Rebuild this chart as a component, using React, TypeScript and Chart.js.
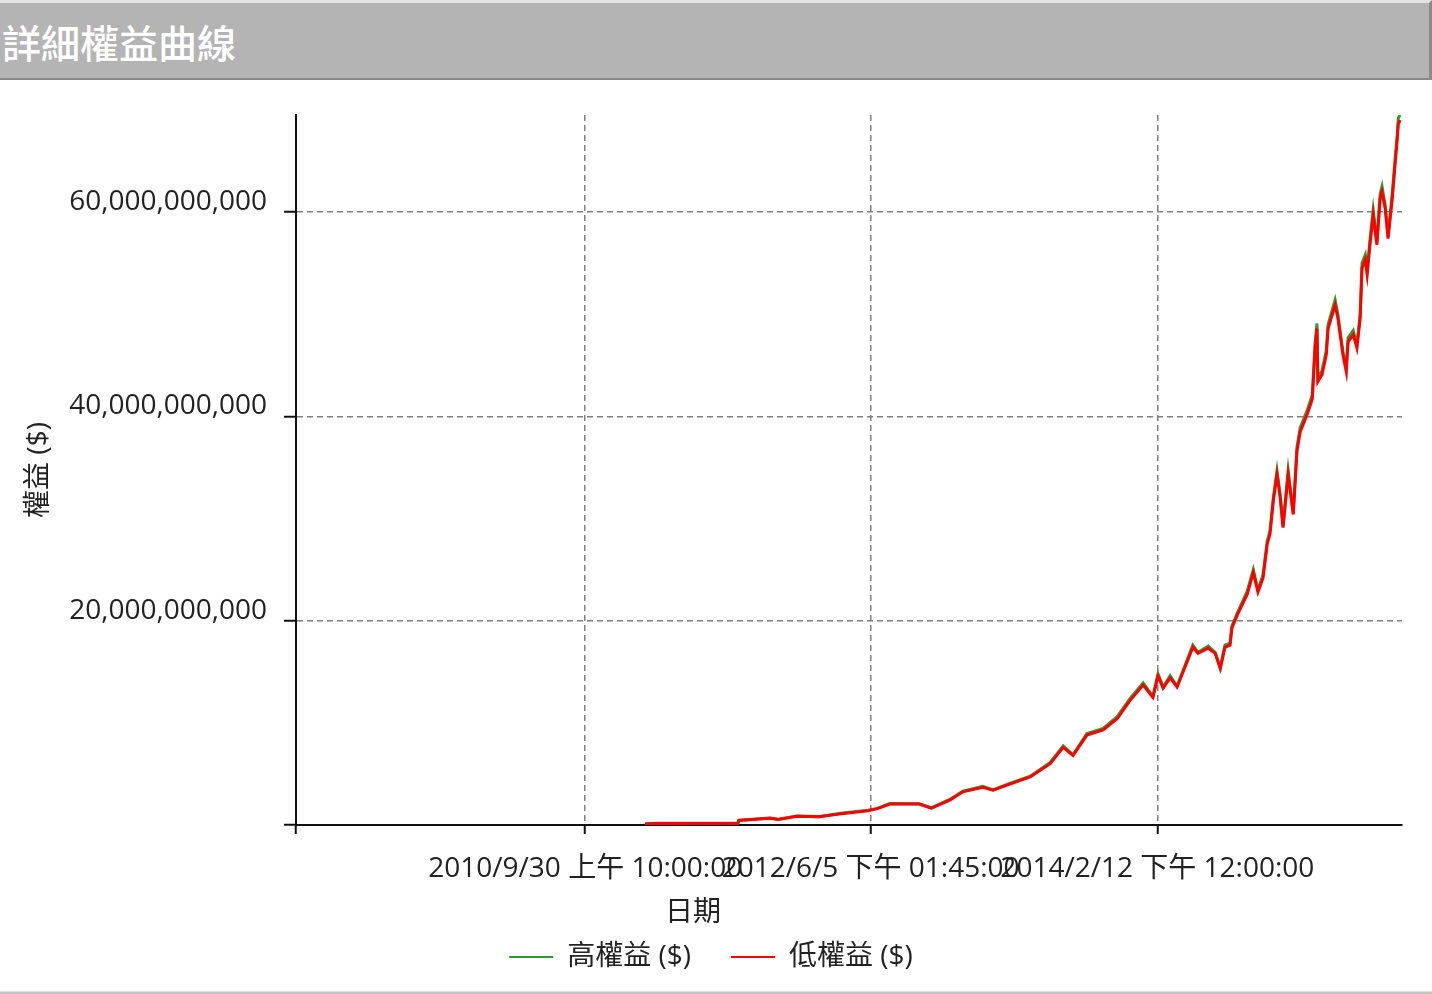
import React, { useEffect, useRef } from "react";
import { Chart, registerables } from "chart.js";

Chart.register(...registerables);

// ---------- data ----------
const TITLE = "詳細權益曲線";
const X_TITLE = "日期";
const Y_TITLE = "權益 ($)";
const SERIES_NAMES = ["高權益 ($)", "低權益 ($)"];

const DATES = [
  "2011-02-06", "2011-03-02", "2011-08-25", "2011-08-27", "2011-11-02", "2011-11-20", "2011-12-30", "2012-02-15", "2012-04-03", "2012-05-31",
  "2012-06-20", "2012-07-17", "2012-09-18", "2012-10-14", "2012-11-23", "2012-12-21", "2013-02-02", "2013-02-24", "2013-03-26", "2013-05-15",
  "2013-06-27", "2013-07-25", "2013-08-15", "2013-09-14", "2013-10-19", "2013-11-18", "2013-12-16", "2014-01-13", "2014-02-03", "2014-02-14",
  "2014-02-25", "2014-03-12", "2014-03-27", "2014-04-30", "2014-05-11", "2014-06-02", "2014-06-17", "2014-06-28", "2014-07-08", "2014-07-19",
  "2014-07-23", "2014-08-05", "2014-08-25", "2014-09-07", "2014-09-17", "2014-09-28", "2014-10-07", "2014-10-13", "2014-10-20", "2014-10-28",
  "2014-11-04", "2014-11-10", "2014-11-21", "2014-12-02", "2014-12-10", "2014-12-17", "2015-01-01", "2015-01-12", "2015-01-18", "2015-01-22",
  "2015-01-24", "2015-02-02", "2015-02-11", "2015-02-15", "2015-03-02", "2015-03-08", "2015-03-19", "2015-03-26", "2015-03-30", "2015-04-10",
  "2015-04-18", "2015-04-25", "2015-04-29", "2015-05-06", "2015-05-10", "2015-05-16", "2015-05-23", "2015-05-31", "2015-06-07", "2015-06-11",
  "2015-06-18", "2015-06-24", "2015-07-03", "2015-07-09", "2015-07-14", "2015-07-16", "2015-07-20",
];

// equity in billions of $
const LOW_B = [
  0.10, 0.15, 0.18, 0.45, 0.65, 0.55, 0.85, 0.80, 1.10, 1.40,
  1.60, 2.05, 2.05, 1.66, 2.44, 3.25, 3.70, 3.40, 3.90, 4.70,
  6.00, 7.60, 6.80, 8.80, 9.30, 10.4, 12.2, 13.7, 12.5, 14.6,
  13.4, 14.4, 13.5, 17.4, 16.8, 17.3, 16.8, 15.3, 17.4, 17.6,
  19.3, 20.7, 22.6, 24.7, 22.8, 24.2, 27.5, 28.5, 31.7, 34.3,
  32.0, 29.1, 34.3, 30.4, 36.6, 38.5, 40.2, 41.7, 46.7, 48.6,
  43.4, 44.1, 46.0, 48.6, 50.9, 49.6, 46.0, 44.4, 47.3, 48.0,
  46.7, 49.6, 54.5, 55.3, 53.9, 56.8, 59.7, 56.8, 61.3, 62.0,
  60.3, 57.4, 61.3, 64.6, 67.2, 68.6, 69.0,
];

const HIGH_B = [
  0.10, 0.16, 0.19, 0.47, 0.68, 0.57, 0.88, 0.82, 1.14, 1.45,
  1.63, 2.10, 2.08, 1.68, 2.50, 3.32, 3.78, 3.44, 3.97, 4.78,
  6.12, 7.75, 6.88, 8.95, 9.45, 10.6, 12.4, 13.9, 12.6, 14.8,
  13.5, 14.6, 13.6, 17.6, 16.9, 17.5, 16.9, 15.4, 17.6, 17.8,
  19.5, 20.9, 22.9, 25.0, 23.0, 24.5, 27.8, 28.8, 32.0, 34.7,
  32.3, 29.3, 34.7, 30.6, 37.0, 38.9, 40.6, 42.1, 47.1, 49.1,
  43.7, 44.5, 46.4, 49.0, 51.4, 50.0, 46.3, 44.7, 47.7, 48.4,
  47.0, 50.0, 55.0, 55.8, 54.2, 57.2, 60.2, 57.1, 61.8, 62.5,
  60.6, 57.7, 61.8, 65.1, 67.7, 69.2, 69.5,
];

const UNIT = 1e9;
const Y_TICKS = [0, 20e9, 40e9, 60e9];
const Y_MAX = 69.5e9;

const X_MIN_DATE = "2009-01-16T00:00:00Z";
const X_MAX_DATE = "2015-07-24T00:00:00Z";
const X_TICK_DATES = ["2010-09-30T10:00:00Z", "2012-06-05T13:45:00Z", "2014-02-12T12:00:00Z"];
const X_TICK_LABELS = ["2010/9/30 上午 10:00:00", "2012/6/5 下午 01:45:00", "2014/2/12 下午 12:00:00"];

// ---------- helpers ----------
const ms = (s: string) => Date.parse(s.length === 10 ? s + "T00:00:00Z" : s);
const FONT = "'Open Sans', 'Noto Sans CJK TC', sans-serif";
const TEXT = "#222222";
const FS = 28;

const X_MIN = ms(X_MIN_DATE);
const X_MAX = ms(X_MAX_DATE);
const X_TICKS = [X_MIN, ...X_TICK_DATES.map(ms)];
const X_LABELS = ["", ...X_TICK_LABELS];

const PLOT_LEFT = 296; // canvas px
const PLOT_BOTTOM = 745; // canvas px
const PAD_BOTTOM = 10;
const PAD_LEFT = 20;

const xTitlePlugin = {
  id: "xTitleOffCenter",
  afterDraw(chart: any) {
    const ctx = chart.ctx;
    ctx.save();
    ctx.font = `${FS}px ${FONT}`;
    ctx.fillStyle = TEXT;
    ctx.textAlign = "center";
    ctx.textBaseline = "middle";
    ctx.fillText(X_TITLE, chart.width * 0.484, chart.chartArea.bottom + 88);
    ctx.restore();
  },
};

export default function App() {
  const ref = useRef<HTMLCanvasElement>(null);

  useEffect(() => {
    const low = DATES.map((d, i) => ({ x: ms(d), y: LOW_B[i] * UNIT }));
    const high = DATES.map((d, i) => ({ x: ms(d), y: HIGH_B[i] * UNIT }));

    const gridCommon = {
      color: "#808080",
      lineWidth: 1.5,
      tickColor: "#111",
      tickWidth: 2,
    };
    const borderCommon = { display: true, color: "#111", width: 2, dash: [6, 4] };

    const chart = new Chart(ref.current as HTMLCanvasElement, {
      type: "line",
      data: {
        datasets: [
          {
            label: SERIES_NAMES[0],
            data: high,
            borderColor: "#2f9a2f",
            backgroundColor: "#2f9a2f",
            borderWidth: 3,
            pointRadius: 0,
            tension: 0,
            order: 1,
          },
          {
            label: SERIES_NAMES[1],
            data: low,
            borderColor: "#ff0000",
            backgroundColor: "#ff0000",
            borderWidth: 3,
            pointRadius: 0,
            tension: 0,
            order: 0,
          },
        ],
      },
      options: {
        animation: false,
        responsive: false,
        layout: { padding: { top: 35, right: 30, left: PAD_LEFT, bottom: PAD_BOTTOM } },
        plugins: {
          tooltip: { enabled: false },
          title: { display: false },
          legend: {
            position: "bottom",
            labels: {
              boxWidth: 44,
              boxHeight: 2,
              padding: 40,
              color: TEXT,
              font: { family: FONT, size: FS },
              generateLabels: (c: any) =>
                c.data.datasets.map((ds: any, i: number) => ({
                  text: ds.label,
                  fillStyle: ds.borderColor,
                  strokeStyle: ds.borderColor,
                  lineWidth: 0,
                  hidden: false,
                  datasetIndex: i,
                  fontColor: TEXT,
                })),
            },
          },
        },
        scales: {
          x: {
            type: "linear",
            min: X_MIN,
            max: X_MAX,
            afterBuildTicks: (s: any) => {
              s.ticks = X_TICKS.map((v) => ({ value: v }));
            },
            afterFit: (s: any) => {
              const lg = s.chart.legend;
              s.height = s.chart.height - PLOT_BOTTOM - PAD_BOTTOM - (lg ? lg.height : 0);
            },
            ticks: {
              autoSkip: false,
              maxRotation: 0,
              minRotation: 0,
              padding: 18,
              color: TEXT,
              font: { family: FONT, size: FS },
              callback: (v: any) => {
                const i = X_TICKS.indexOf(Number(v));
                return i >= 0 ? X_LABELS[i] : "";
              },
            },
            grid: { ...gridCommon, tickLength: 9 },
            border: borderCommon,
          },
          y: {
            type: "linear",
            min: 0,
            max: Y_MAX,
            afterBuildTicks: (s: any) => {
              s.ticks = Y_TICKS.map((v) => ({ value: v }));
            },
            afterFit: (s: any) => {
              s.width = PLOT_LEFT - PAD_LEFT;
            },
            ticks: {
              padding: 17,
              labelOffset: -10,
              color: TEXT,
              font: { family: FONT, size: FS },
              callback: (v: any) => (Number(v) === 0 ? "" : Number(v).toLocaleString("en-US")),
            },
            grid: { ...gridCommon, tickLength: 12 },
            border: borderCommon,
            title: {
              display: true,
              text: Y_TITLE,
              color: TEXT,
              font: { family: FONT, size: FS },
              padding: { top: 2, bottom: 0 },
            },
          },
        },
      } as any,
      plugins: [xTitlePlugin],
    });

    return () => chart.destroy();
  }, []);

  return (
    <div
      style={{
        position: "absolute",
        left: 0,
        top: 0,
        width: 1432,
        height: 994,
        background: "#ffffff",
        overflow: "hidden",
      }}
    >
      <div
        style={{
          position: "absolute",
          left: 0,
          top: 0,
          width: 1432,
          height: 80,
          boxSizing: "border-box",
          background: "#b4b4b4",
          borderTop: "3px solid #e4e4e4",
          borderBottom: "2px solid #8a8a8a",
          borderRight: "3px solid #8a8a8a",
          display: "flex",
          alignItems: "center",
          paddingLeft: 2,
          color: "#ffffff",
          fontFamily: "'Noto Sans CJK TC', sans-serif",
          fontSize: 39,
          fontWeight: 500,
          lineHeight: "40px",
        }}
      >
        {TITLE}
      </div>
      <div style={{ position: "absolute", left: 0, top: 80, width: 1432, height: 911 }}>
        <canvas ref={ref} width={1432} height={911} style={{ display: "block", width: 1432, height: 911 }} />
      </div>
      <div
        style={{
          position: "absolute",
          left: 0,
          top: 991,
          width: 1432,
          height: 3,
          boxSizing: "border-box",
          background: "#c4c4c4",
          borderTop: "1px solid #e2e2e2",
        }}
      />
    </div>
  );
}
